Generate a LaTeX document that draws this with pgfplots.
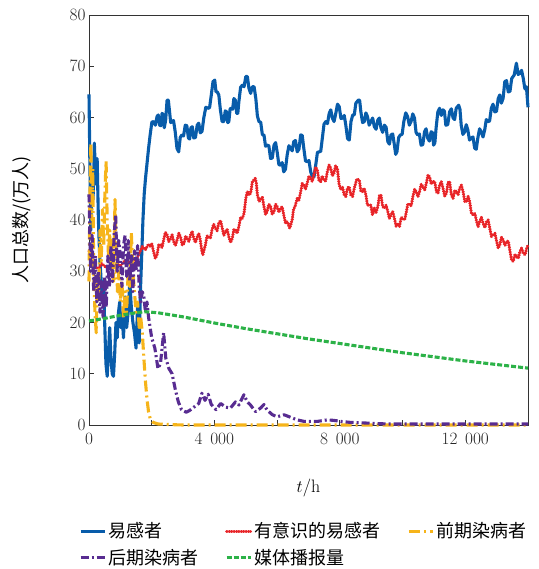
\documentclass[border=0pt]{standalone}
\usepackage{pgfplots}
\pgfplotsset{compat=1.18}
\usepackage{fontspec}
\newfontfamily\cjk{Noto Sans CJK SC}
\definecolor{cblue}{RGB}{8,92,170}
\definecolor{cred}{RGB}{232,36,40}
\definecolor{corange}{RGB}{246,180,26}
\definecolor{cpurple}{RGB}{88,44,145}
\definecolor{cgreen}{RGB}{44,178,72}
\begin{document}
\begin{tikzpicture}
\begin{axis}[
  scale only axis, width=439pt, height=410pt,
  xmin=0, xmax=14000, ymin=0, ymax=80,
  scaled x ticks=false,
  xtick={0,4000,8000,12000},
  xticklabels={$0$,$4\;\,000$,$8\;\,000$,$12\;\,000$},
  minor xtick={2000,6000,10000,14000},
  ytick={0,10,...,80},
  tick align=inside, xtick pos=bottom, ytick pos=left,
  major tick length=5pt, minor tick length=5pt,
  tick style={line width=0.8pt, color=black!80},
  axis line style={line width=0.9pt, color=black!80},
  ticklabel style={font=\fontsize{18}{20}\selectfont, color=black!85},
  x tick label style={yshift=-5pt},
  xlabel={$t$/h},
  xlabel style={font=\fontsize{18}{20}\selectfont, at={(axis description cs:0.5,-0.154)}, anchor=center},
  ylabel={\cjk 人口总数/(万人)},
  ylabel style={font=\fontsize{18}{20}\selectfont, at={(axis description cs:-0.153,0.5)}, anchor=center},
  clip=false,
  legend columns=3,
  legend cell align=left,
  legend style={at={(axis description cs:-0.03,-0.228)}, anchor=north west, draw=none,
    font=\cjk\fontsize{18}{20}\selectfont,
    /tikz/every even column/.append style={column sep=25pt},
    row sep=6pt},
  legend image code/.code={\draw[#1] (0pt,0pt) -- (24pt,0pt);},
  every axis plot/.append style={line width=3.1pt, line join=round},
]
\coordinate (O) at (rel axis cs:0,0);
% 易感者
\addplot[cblue] coordinates {
(0,64.5)(30,50)(60,38)(90,50)(130,44)(170,55)(220,47)(260,52)(300,40)(340,33)(380,29)(420,24)(460,28)(500,20)(540,12)(580,9.5)(620,14)(660,19)(700,13)(740,10)(780,9.5)(820,14)(860,20)(900,17)(940,22)(980,24)(1020,19)(1060,21)(1100,17)(1150,25)(1200,19)(1250,22)(1300,28)(1350,23)(1400,20)(1450,18)(1500,15)(1550,23)(1600,16)(1640,26)(1680,33)(1720,40)(1760,45)(1800,48)(1850,51)(1900,54)(1950,56.6)
(2005,59.1)(2060,59.2)(2115,58.5)(2170,60.2)(2210,60.5)(2250,58.5)(2290,58.4)(2330,60.8)(2365,60.6)(2400,58)(2445,59.5)(2490,63.4)(2530,63.4)(2570,61.1)(2605,59)(2640,59.2)(2695,59.4)(2750,57.2)(2805,54)(2860,53.3)(2910,56.1)(2960,56.6)(3015,56.4)(3070,58.5)(3120,58.4)(3170,56)(3210,55.8)(3250,58)(3295,58.2)(3340,56)(3395,56.1)(3450,58.5)(3500,58.9)(3550,57)(3605,57.3)(3660,59.9)(3725,62)(3790,61.8)(3845,61.9)(3900,64.4)(3955,67)(4010,67.3)(4050,65)(4090,65)(4140,64.4)(4190,61.5)(4245,59.2)(4300,59.2)(4345,61.3)(4390,61.1)(4425,59)(4460,59.2)(4500,61.7)(4540,61.8)(4580,61.6)(4620,63.7)(4665,63.4)(4710,60.8)(4745,60.8)(4780,63.1)(4835,65.9)(4890,66.3)(4945,66)(5000,68)(5050,68)(5100,65.7)(5155,64.7)(5210,66)(5265,66)(5320,63.7)(5370,60.3)(5420,59.2)(5475,59.1)(5530,56.6)
(5580,56.6)(5630,54.4)(5680,54.6)(5735,54.5)(5790,52)(5845,52.1)(5900,54.6)(5950,55.1)(6000,53.3)(6055,50.8)(6110,50.7)(6160,51.2)(6210,49.4)(6265,49.9)(6320,52.7)(6375,54.5)(6430,54)(6480,53.5)(6530,55.3)(6585,55.5)(6640,53.3)(6695,53.8)(6750,56.6)(6800,56.5)(6850,54)(6905,51.5)(6960,51.4)(7015,51.6)(7070,49.4)(7120,48.5)(7175,48.4)(7230,50.7)(7285,53.2)(7340,53.3)(7390,53.4)(7440,55.9)(7495,58.7)(7550,59.2)(7605,58.8)(7660,60.8)(7710,61.5)(7760,59.9)(7815,59.2)(7870,60.8)(7925,62.6)(7980,62.1)(8035,59.8)(8090,59.9)(8140,60.4)(8190,58.5)(8245,55.9)(8300,55.6)(8355,59.2)(8410,60.5)(8460,60.5)(8510,62.8)(8590,63.4)(8630,63.4)(8670,61.1)(8725,59)(8780,59.2)(8830,60.9)(8880,60.2)(8935,58.5)(8990,59.2)
(9045,59.9)(9100,58.2)(9155,57.7)(9210,59.5)(9260,59.9)(9310,58)(9365,57.1)(9420,58.5)(9475,58.1)(9530,55.3)(9580,54.8)(9630,56.6)(9685,56.8)(9740,54.6)(9780,52.8)(9820,53.3)(9875,56.1)(9930,56.6)(9985,56.7)(10040,59.2)(10100,60.9)(10160,60.2)(10215,58.5)(10270,59.2)(10325,60.7)(10380,59.9)(10430,57.1)(10480,56.6)(10535,56.8)(10590,54.6)(10645,54.7)(10700,57.2)(10750,57.8)(10800,56)(10855,55.4)(10910,57.2)(10950,57.1)(10990,54.6)(11030,55.1)(11070,58)(11125,61.1)(11180,61.8)(11235,60.4)(11290,61.5)(11335,61.2)(11380,58.5)(11440,58.6)(11500,61.1)(11555,61.7)(11610,59.9)(11660,59.6)(11710,61.8)(11790,62.4)(11830,61.6)(11870,58.5)(11925,56.7)(11980,57.2)(12030,58.6)(12080,57.6)(12135,55.6)(12190,56)(12245,56.2)(12300,54)(12350,53.8)(12400,56)(12455,57.8)(12510,57.2)(12565,56.2)(12620,57.6)(12670,59.6)(12720,59.2)(12775,59.3)(12830,61.8)(12885,62.6)(12940,61.1)(12995,61.2)(13050,63.7)(13100,64.4)(13150,62.8)(13205,63.7)(13260,67)(13315,67.2)(13370,65)(13425,65.1)(13480,67.6)(13560,68.3)(13630,70.6)(13685,68.4)(13740,68.6)(13795,69.2)(13850,67.6)(13900,65.6)(13950,66)(14000,62)
};
\addlegendentry{易感者}
% 有意识的易感者
\addplot[cred, line cap=round, dash pattern=on 0.5pt off 1.9pt] coordinates {
(0,34)(100,32)(200,31)(300,30.5)(400,31.5)(500,31)(600,30.5)(700,31.2)(800,30.8)(900,31.5)(1000,31)(1100,31.8)(1200,32.3)(1300,31.6)(1400,32.5)(1500,32)(1600,33.5)(1700,34.8)(1800,34.2)(1900,35.3)(1950,34.8)
(2005,35.3)(2060,33.8)(2115,32.5)(2170,33.2)(2225,35.2)(2280,35.1)(2330,34.6)(2380,36.1)(2435,37.6)(2490,37.1)(2545,35.8)(2600,36.4)(2650,37.1)(2700,35.8)(2755,35)(2810,36.1)(2865,37.4)(2920,36.7)(2975,35.1)(3030,35.4)(3080,36.9)(3130,36.4)(3185,35.8)(3240,37.1)(3290,37.8)(3340,36.4)(3395,35.6)(3450,36.7)(3500,37.4)(3550,36.1)(3590,34.2)(3630,33.2)(3710,35.1)(3765,36.9)(3820,36.7)(3870,36.4)(3920,38)(3975,39.2)(4030,38.4)(4085,37.9)(4140,39.4)(4195,39.9)(4250,38.4)(4300,37)(4350,37.7)(4405,38.2)(4460,36.7)(4515,35.6)(4570,36.4)(4620,38.2)(4670,38)(4725,37.4)(4780,38.7)(4835,40.5)(4890,40.3)(4945,41.3)(5000,44.2)(5050,45.6)(5100,44.9)(5155,45.2)(5210,47.5)(5300,48.1)(5335,47.3)(5370,44.9)(5425,43.6)(5480,44.2)(5530,44.4)
(5580,42.6)(5630,41.1)(5680,41.6)(5735,43.1)(5790,42.6)(5845,41.1)(5900,41.6)(5950,43.1)(6000,42.6)(6055,41.5)(6110,42.3)(6160,42.6)(6210,41)(6265,39.4)(6320,39.7)(6400,38.4)(6480,40)(6525,42.2)(6570,42.6)(6640,44.2)(6695,43.9)(6750,45.5)(6800,47.1)(6850,46.8)(6905,46)(6960,47.2)(7015,48.6)(7070,48.1)(7120,47.5)(7170,48.8)(7225,50.3)(7280,49.8)(7335,47.7)(7390,47.5)(7440,48.6)(7490,47.8)(7545,47.6)(7600,49.4)(7655,50.7)(7710,50.1)(7760,48.6)(7810,49.1)(7865,50.6)(7920,50.1)(7975,47)(8030,45.9)(8085,46.4)(8140,44.9)(8190,44.6)(8240,46.2)(8295,46.5)(8350,44.9)(8405,44.6)(8460,46.2)(8540,48)(8620,47.8)(8670,45.7)(8720,45.5)(8775,46.2)(8830,44.9)(8880,42.9)(8930,42.9)(8985,42.9)(9040,41)
(9100,42.3)(9155,41.5)(9210,42.6)(9260,44.7)(9310,44.9)(9365,42.6)(9420,42.3)(9475,42.9)(9530,41.6)(9580,40.3)(9630,41)(9685,41.6)(9740,40.3)(9795,38.8)(9850,39.3)(9900,38.7)(9955,40.5)(10010,40.3)(10065,40)(10120,41.6)(10170,43.2)(10220,42.9)(10275,42.8)(10330,44.6)(10385,46)(10440,45.5)(10490,44.5)(10540,45.5)(10595,47)(10650,46.5)(10705,45.9)(10760,47.2)(10810,48.8)(10860,48.5)(10915,47)(10970,47.5)(11025,47.5)(11080,45.5)(11130,45.2)(11180,46.8)(11235,47.5)(11290,46.2)(11345,44.7)(11400,45.2)(11450,47.3)(11500,47.5)(11555,44.9)(11610,44.2)(11665,45.8)(11720,45.5)(11770,44.9)(11820,46.2)(11875,46.8)(11930,45.5)(11985,43.6)(12040,43.6)(12090,44.6)(12140,43.6)(12195,41.3)(12250,41)(12305,41.3)(12360,39.7)(12410,38.7)(12460,39.7)(12515,40.5)(12570,39.3)(12625,38.5)(12680,39.7)(12730,40)(12780,38.4)(12835,36.8)(12890,37.1)(12945,37.4)(13000,35.8)(13050,34.5)(13100,35.1)(13155,36.6)(13210,36.1)(13265,35)(13320,35.8)(13370,35.9)(13420,34.1)(13475,32.2)(13530,31.9)(13585,33.3)(13640,32.9)(13690,32.5)(13740,33.8)(13795,34.5)(13850,33.5)(13905,33.2)(13960,34.5)(14000,35.1)
};
\addlegendentry{有意识的易感者}
% 前期染病者
\addplot[corange, dash pattern=on 11pt off 4pt on 2pt off 4pt] coordinates {
(0,28)(30,45)(60,55)(90,40)(120,50)(150,30)(190,22)(230,18)(270,28)(310,24)(350,38)(390,32)(430,42)(470,35)(510,46)(545,51.5)(580,40)(620,33)(660,38)(700,30)(740,36)(780,28)(830,44)(870,32)(910,26)(950,30)(1000,24)(1050,28)(1100,21)(1150,26)(1200,22)(1250,30)(1300,27)(1350,37.5)(1400,30)(1450,26)(1500,22)(1550,24)(1600,19)(1650,21)(1700,18)(1750,13)(1800,8.5)(1850,5)(1900,2.5)(1950,1.3)(2050,0.5)(2200,0.2)(2500,0.1)(3000,0)(14000,0)
};
\addlegendentry{前期染病者}
% 后期染病者
\addplot[cpurple, dash pattern=on 8pt off 3pt on 2pt off 3pt] coordinates {
(0,45)(50,30)(100,37)(150,26)(200,33)(250,24)(300,30)(350,22)(400,28)(450,21)(500,29)(550,23)(600,33)(650,27)(700,35)(750,28)(800,37)(850,41)(900,30)(950,36)(1000,33)(1050,27)(1100,35)(1150,37)(1200,29)(1250,36)(1300,28)(1350,33)(1400,26)(1450,34)(1500,30)(1550,35)(1600,27)(1650,24)(1700,26)(1750,25)(1800,22)(1850,24)(1900,21)(1950,19)(2000,17)(2100,15)(2200,11)(2280,12)(2380,18)(2450,13)(2550,11)(2650,10)(2750,7)(2850,4.5)(2950,3)(3100,2.5)(3200,2.8)(3350,3.5)(3500,4.2)(3600,6.2)(3700,4.8)(3800,6)(3900,4)(4050,3)(4200,4.2)(4350,3.5)(4510,3.3)(4670,4.5)(4780,3.9)(4940,5.9)(5050,4.5)(5150,3.9)(5310,2.6)(5470,3.3)(5580,4.0)(5680,2.9)(5850,2.0)(6000,1.6)(6220,2.0)(6430,1.5)(6640,1.0)(6860,0.7)(7280,0.7)(7600,1.0)(7810,0.9)(8030,0.7)(8350,0.5)(8770,0.4)(9500,0.2)(14000,0.2)
};
\addlegendentry{后期染病者}
% 媒体播报量
\addplot[cgreen, dash pattern=on 5pt off 2pt] coordinates {
(0,20.3)(500,20.8)(1000,21.4)(1500,21.9)(1800,22.1)(2200,21.9)(3000,21.1)(4000,19.9)(5000,18.8)(6000,17.8)(7000,16.8)(8000,15.9)(9000,15.0)(10000,14.1)(11000,13.3)(12000,12.5)(13000,11.8)(14000,11.1)
};
\addlegendentry{媒体播报量}
\end{axis}
\pgfresetboundingbox
\path[use as bounding box] (O) ++(-89pt,-144pt) rectangle ++(538pt,569pt);
\end{tikzpicture}
\end{document}
